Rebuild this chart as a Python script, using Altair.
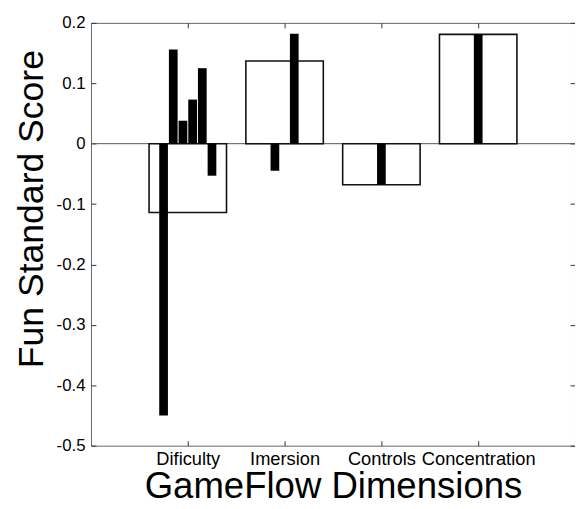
import json
import altair as alt
import pandas as pd

# ---- data ----
categories = ["Dificulty", "Imersion", "Controls", "Concentration"]
mean_scores = [-0.114, 0.137, -0.068, 0.181]
sub_scores = [
    [-0.45, 0.156, 0.038, 0.073, 0.125, -0.053],
    [-0.045, 0.182],
    [-0.068],
    [0.181],
]
sub_positions = [
    [-0.25, -0.15, -0.05, 0.05, 0.15, 0.25],
    [-0.1, 0.1],
    [0.0],
    [0.0],
]
y_ticks = [-0.5, -0.4, -0.3, -0.2, -0.1, 0.0, 0.1, 0.2]

WIDE = 0.8
THIN = 0.09
FONT = "Liberation Sans"

wide_df = pd.DataFrame({
    "cat": categories,
    "x": [i + 1 - WIDE / 2 for i in range(len(categories))],
    "x2": [i + 1 + WIDE / 2 for i in range(len(categories))],
    "v": mean_scores,
    "zero": 0.0,
})

rows = []
for i, (vals, offs) in enumerate(zip(sub_scores, sub_positions)):
    for v, o in zip(vals, offs):
        c = i + 1 + o
        rows.append({"cat": categories[i], "x": c - THIN / 2, "x2": c + THIN / 2, "v": v, "zero": 0.0})
thin_df = pd.DataFrame(rows)

xscale = alt.Scale(domain=[0, 5], nice=False, zero=False)
yscale = alt.Scale(domain=[-0.5, 0.2], nice=False, zero=False)

label_expr = json.dumps(categories) + "[datum.value - 1]"

common_axis = dict(
    offset=-5, tickSize=5, domain=False, grid=False, tickColor="#333",
    labelFont=FONT, titleFont=FONT, labelColor="#000", titleColor="#000",
)

zero_line = alt.Chart(pd.DataFrame({"zero": [0.0]})).mark_rule(
    color="#555", strokeWidth=1
).encode(y=alt.Y("zero:Q", scale=yscale, axis=None))

wide = alt.Chart(wide_df).mark_rect(
    fill="white", stroke="#111", strokeWidth=1.6
).encode(
    x=alt.X("x:Q", scale=xscale, axis=alt.Axis(
        orient="bottom", values=[1, 2, 3, 4], labelExpr=label_expr,
        labelFontSize=18.5, labelPadding=4, labelOverlap=False,
        title="GameFlow Dimensions",
        titleFontSize=37, titleFontWeight="normal", titleBaseline="alphabetic",
        titleY=57, **common_axis)),
    x2="x2:Q",
    y=alt.Y("v:Q", scale=yscale, axis=alt.Axis(
        orient="left", values=y_ticks, labelExpr="'' + datum.value",
        labelFontSize=17, labelPadding=6, title="Fun Standard Score",
        titleFontSize=36, titleFontWeight="normal", titleBaseline="alphabetic",
        titleAngle=270, titleAlign="center", titleX=-54, titleY=188,
        **common_axis)),
    y2="zero:Q",
)

thin = alt.Chart(thin_df).mark_rect(fill="black", stroke=None).encode(
    x=alt.X("x:Q", scale=xscale, axis=alt.Axis(
        orient="top", values=[1, 2, 3, 4], labels=False, title=None, **common_axis)),
    x2="x2:Q",
    y=alt.Y("v:Q", scale=yscale, axis=alt.Axis(
        orient="right", values=y_ticks, labels=False, title=None, **common_axis)),
    y2="zero:Q",
)

chart = alt.layer(zero_line, wide, thin).resolve_axis(
    x="independent", y="independent"
).properties(
    width=490, height=428,
    autosize="none",
    padding={"left": 84, "top": 12, "right": 0, "bottom": 58},
    background="white",
).configure_view(stroke="#666", strokeWidth=1)

chart.save("out.html", embed_options={"renderer": "svg", "actions": False})
